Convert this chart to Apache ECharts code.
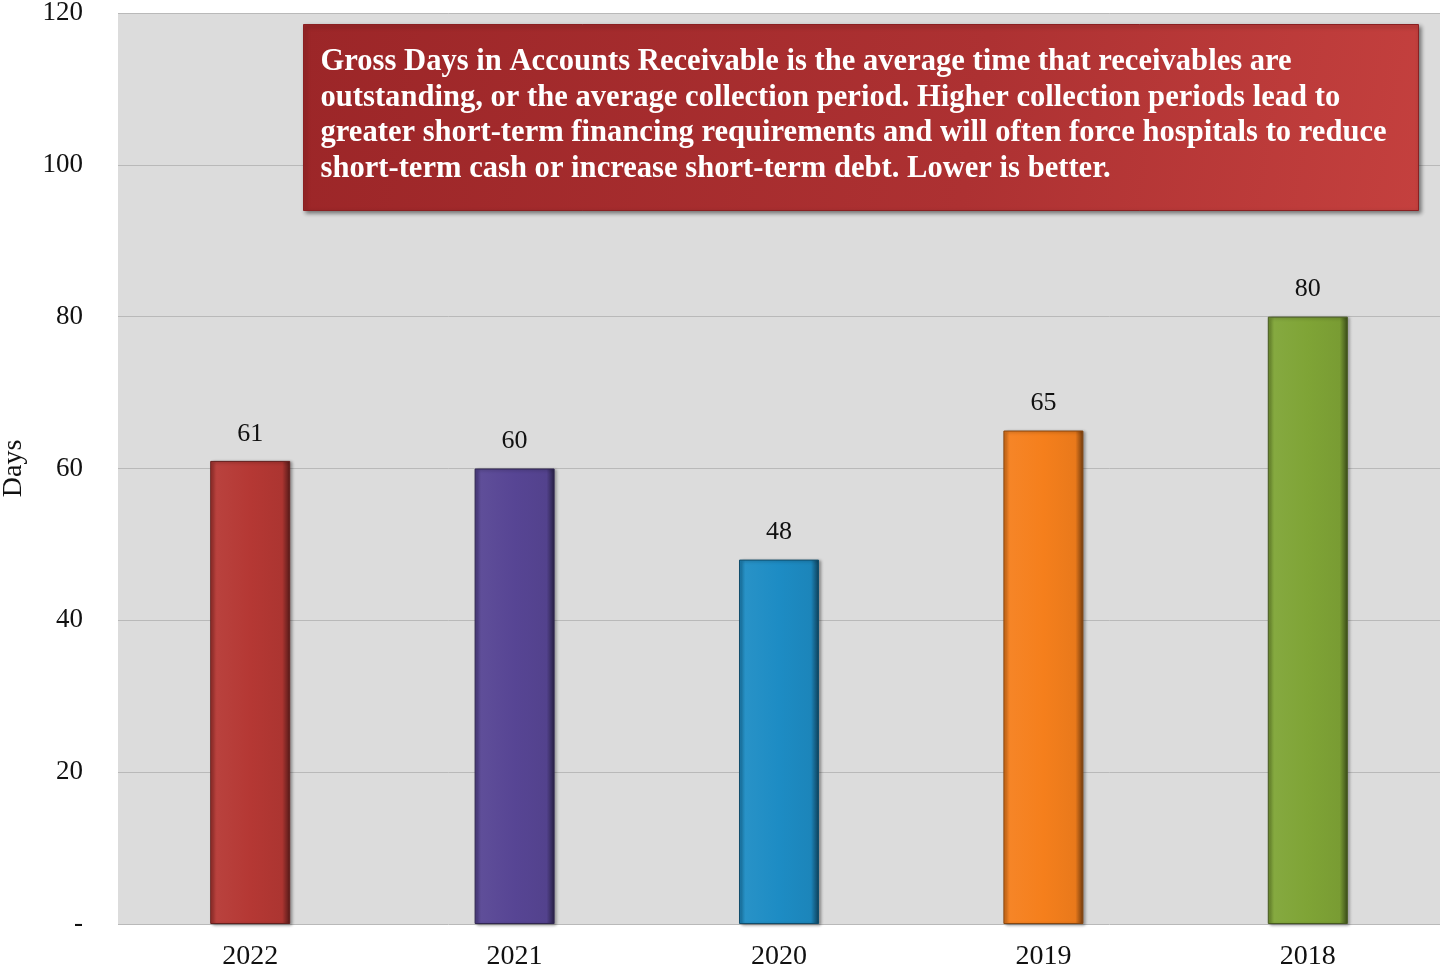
<!DOCTYPE html>
<html>
<head>
<meta charset="utf-8">
<script src="https://cdn.jsdelivr.net/npm/echarts@6/dist/echarts.min.js"></script>
<style>
  html, body { margin: 0; padding: 0; background: #ffffff; }
  #chart { width: 1442px; height: 970px; }
</style>
</head>
<body>
<div id="chart"></div>
<script>
// Gross Days in Accounts Receivable by fiscal year
const years = ['2022', '2021', '2020', '2019', '2018'];
const days = [61, 60, 48, 65, 80];
const barColors = ['#b53834', '#574594', '#1d8cc4', '#f57f1c', '#7fa436'];
const yTickLabels = { 0: '-', 20: '20', 40: '40', 60: '60', 80: '80', 100: '100', 120: '120' };
const noteLines = [
  'Gross Days in Accounts Receivable is the average time that receivables are',
  'outstanding, or the average collection period. Higher collection periods lead to',
  'greater short-term financing requirements and will often force hospitals to reduce',
  'short-term cash or increase short-term debt. Lower is better.'
];

function shade(hex, amt) {
  const n = parseInt(hex.slice(1), 16);
  let r = (n >> 16) & 255, g = (n >> 8) & 255, b = n & 255;
  const f = v => Math.max(0, Math.min(255, Math.round(amt < 0 ? v * (1 + amt) : v + (255 - v) * amt)));
  return 'rgb(' + f(r) + ',' + f(g) + ',' + f(b) + ')';
}

const chart = echarts.init(document.getElementById('chart'));
const serif = '"Liberation Serif", "DejaVu Serif", serif';

chart.setOption({
  backgroundColor: '#ffffff',
  animation: false,
  grid: {
    left: 118, right: 2, top: 13, bottom: 46,
    outerBoundsMode: 'none',
    containLabel: false,
    show: true, backgroundColor: '#dcdcdc', borderWidth: 0
  },
  xAxis: {
    type: 'category',
    data: years,
    axisLine: { show: false },
    axisTick: { show: false },
    axisLabel: { fontFamily: serif, fontSize: 28, color: '#111', margin: 19 }
  },
  yAxis: {
    type: 'value',
    min: 0, max: 120, interval: 20,
    name: 'Days',
    nameLocation: 'middle',
    nameGap: 90,
    nameRotate: 90,
    nameTextStyle: { fontFamily: serif, fontSize: 28, color: '#111' },
    axisLine: { show: false },
    axisTick: { show: false },
    axisLabel: {
      fontFamily: serif, fontSize: 27, color: '#111', margin: 35,
      formatter: v => yTickLabels[v] !== undefined ? yTickLabels[v] : ''
    },
    splitLine: { lineStyle: { color: '#b9b9b9', width: 1 } }
  },
  series: [{
    type: 'bar',
    barWidth: 80,
    data: days.map((v, i) => ({
      value: v,
      itemStyle: {
        color: {
          type: 'linear', x: 0, y: 0, x2: 1, y2: 0,
          colorStops: [
            { offset: 0, color: shade(barColors[i], -0.15) },
            { offset: 0.08, color: shade(barColors[i], 0.05) },
            { offset: 0.5, color: barColors[i] },
            { offset: 0.9, color: shade(barColors[i], -0.05) },
            { offset: 1, color: shade(barColors[i], -0.55) }
          ]
        },
        borderColor: shade(barColors[i], -0.45),
        borderWidth: 1,
        shadowColor: 'rgba(0,0,0,0.35)',
        shadowBlur: 3,
        shadowOffsetX: 2,
        shadowOffsetY: 1
      }
    })),
    label: {
      show: true, position: 'top', distance: 14,
      fontFamily: serif, fontSize: 26, color: '#111'
    }
  }],
  graphic: [{
    type: 'group',
    left: 303, top: 24,
    z: 100,
    children: [{
      type: 'rect',
      z: 100,
      shape: { x: 0, y: 0, width: 1115, height: 186 },
      style: {
        fill: {
          type: 'linear', x: 0, y: 0, x2: 1, y2: 1,
          colorStops: [
            { offset: 0, color: '#9c2628' },
            { offset: 0.6, color: '#ad3132' },
            { offset: 1, color: '#c4403e' }
          ]
        },
        stroke: '#8a2022', lineWidth: 1,
        shadowColor: 'rgba(0,0,0,0.45)', shadowBlur: 4, shadowOffsetX: 2, shadowOffsetY: 2
      }
    }, {
      type: 'text',
      z: 101,
      x: 17, y: 20,
      style: {
        text: noteLines.join('\n'),
        fill: '#ffffff',
        font: 'bold 30.6px ' + serif,
        lineHeight: 35.5
      }
    }]
  }]
});
</script>
</body>
</html>
